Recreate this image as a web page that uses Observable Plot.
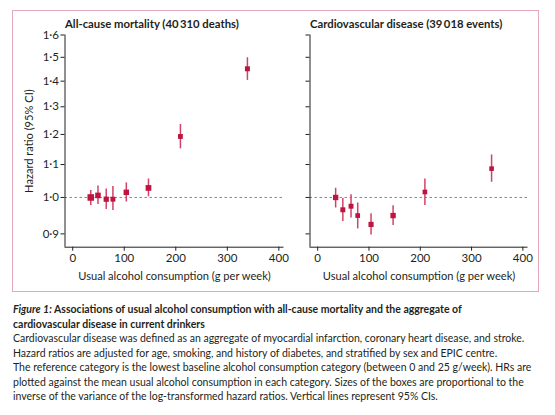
<!DOCTYPE html>
<html><head><meta charset="utf-8">
<script src="https://cdn.jsdelivr.net/npm/d3@7"></script>
<script src="https://cdn.jsdelivr.net/npm/@observablehq/plot@0.6"></script>
<style>
body{margin:0;background:#fff;font-family:Lato,"Open Sans",sans-serif;}
#fig{position:relative;width:555px;height:415px;overflow:hidden;background:#fff;}
#box{position:absolute;left:12px;top:10px;width:527px;height:282px;box-sizing:border-box;border:1.5px solid #e6a9b9;}
.panel{position:absolute;top:0;}
#cap{position:absolute;left:13px;top:302px;width:545px;font-size:10.5px;line-height:14.5px;color:#231f20;white-space:nowrap;}
#cap .t{font-weight:bold;}
</style></head><body>
<div id="fig">
<div id="box"></div>
<div id="p1" class="panel" style="left:0px"></div>
<div id="p2" class="panel" style="left:285px"></div>
<div id="cap"></div>
</div>
<script>
// Mean usual alcohol consumption in each category (g per week)
const alcohol = [35, 49, 65, 78, 104, 147, 209, 339];
// All-cause mortality hazard ratios and 95% CIs
const mortHR = [1.000, 1.006, 0.995, 0.995, 1.015, 1.028, 1.193, 1.451];
const mortLo = [0.977, 0.980, 0.966, 0.963, 0.987, 1.002, 1.151, 1.403];
const mortHi = [1.020, 1.034, 1.025, 1.032, 1.043, 1.055, 1.235, 1.498];
// Cardiovascular disease hazard ratios and 95% CIs
const cvdHR = [1.000, 0.965, 0.975, 0.949, 0.925, 0.949, 1.016, 1.087];
const cvdLo = [0.970, 0.933, 0.942, 0.913, 0.897, 0.922, 0.977, 1.045];
const cvdHi = [1.027, 0.997, 1.008, 0.984, 0.954, 0.976, 1.055, 1.131];
// Axis ticks and labels
const xTicks = [0, 100, 200, 300, 400];
const yTicks = [0.9, 1.0, 1.1, 1.2, 1.3, 1.4, 1.5, 1.6];
const xDomain = [-15, 410];
const yDomain = [0.866, 1.6];
const titles = ["All-cause mortality (40\u2009310 deaths)", "Cardiovascular disease (39\u2009018 events)"];
const xLabel = "Usual alcohol consumption (g per week)";
const yLabel = "Hazard ratio (95% CI)";
const captionTitle = ["Associations of usual alcohol consumption with all-cause mortality and the aggregate of", "cardiovascular disease in current drinkers"];
const captionLines = [
  "Cardiovascular disease was defined as an aggregate of myocardial infarction, coronary heart disease, and stroke.",
  "Hazard ratios are adjusted for age, smoking, and history of diabetes, and stratified by sex and EPIC centre.",
  "The reference category is the lowest baseline alcohol consumption category (between 0 and 25 g/week). HRs are",
  "plotted against the mean usual alcohol consumption in each category. Sizes of the boxes are proportional to the",
  "inverse of the variance of the log-transformed hazard ratios. Vertical lines represent 95% CIs."
];

const ink = "#231f20";
const boxColor = "#bf143f";
const ciColor = "#d0426b";
const fmt = d => d.toFixed(1).replace(".", "\u00b7");

function rows(hr, lo, hi) {
  return alcohol.map((a, i) => ({a, hr: hr[i], lo: lo[i], hi: hi[i], w: (3.92 / Math.log(hi[i] / lo[i])) ** 2}));
}
const mort = rows(mortHR, mortLo, mortHi);
const cvd = rows(cvdHR, cvdLo, cvdHi);
const wExt = d3.extent([...mort, ...cvd], d => d.w);

function panel(title, data, first) {
  return Plot.plot({
    width: first ? 290 : 250,
    height: 292,
    marginLeft: first ? 64.5 : 24.5,
    marginRight: first ? 6.5 : 7.5,
    marginTop: 34.5,
    marginBottom: 45.3,
    style: {background: "none", fontFamily: "Lato, 'Open Sans', sans-serif", fontSize: "11.5px", color: ink, overflow: "visible"},
    x: {domain: xDomain},
    y: {type: "log", domain: yDomain},
    r: {type: "linear", domain: wExt, range: [2.6, 3.7]},
    marks: [
      Plot.ruleY([1], {stroke: "#7d8c9a", strokeDasharray: "2.5,2.5", strokeWidth: 1}),
      Plot.ruleX([xDomain[0]], {stroke: ink, strokeWidth: 1}),
      Plot.ruleY([yDomain[0]], {stroke: ink, strokeWidth: 1}),
      Plot.axisX({ticks: xTicks, tickSize: 4, tickPadding: 3, label: null, tickFormat: d => String(d)}),
      Plot.axisY({ticks: yTicks, tickSize: 4, tickPadding: 2, label: null, tickFormat: first ? fmt : () => ""}),
      Plot.ruleX(data, {x: "a", y1: "lo", y2: "hi", stroke: ciColor, strokeWidth: 1.5}),
      Plot.dot(data, {x: "a", y: "hr", r: "w", symbol: "square", fill: boxColor, stroke: null}),
      Plot.text([title], {frameAnchor: "top-left", textAnchor: "start", lineAnchor: "middle", dy: -10.5, fontWeight: "bold", fontSize: 11.3, fill: ink}),
      Plot.text([xLabel], {frameAnchor: "bottom", textAnchor: "middle", lineAnchor: "middle", dy: 29.5, fontSize: 11.1, fill: ink}),
      first ? Plot.text([yLabel], {frameAnchor: "left", textAnchor: "middle", lineAnchor: "middle", rotate: -90, dx: -35.5, fontSize: 11.1, fill: ink}) : null
    ]
  });
}
document.getElementById("p1").appendChild(panel(titles[0], mort, true));
document.getElementById("p2").appendChild(panel(titles[1], cvd, false));

const cap = document.getElementById("cap");
const t = document.createElement("div");
t.className = "t";
t.innerHTML = "<i>Figure 1:</i> " + captionTitle[0] + "<br>" + captionTitle[1];
cap.appendChild(t);
captionLines.forEach(l => { const d = document.createElement("div"); d.textContent = l; cap.appendChild(d); });
</script>
</body></html>
